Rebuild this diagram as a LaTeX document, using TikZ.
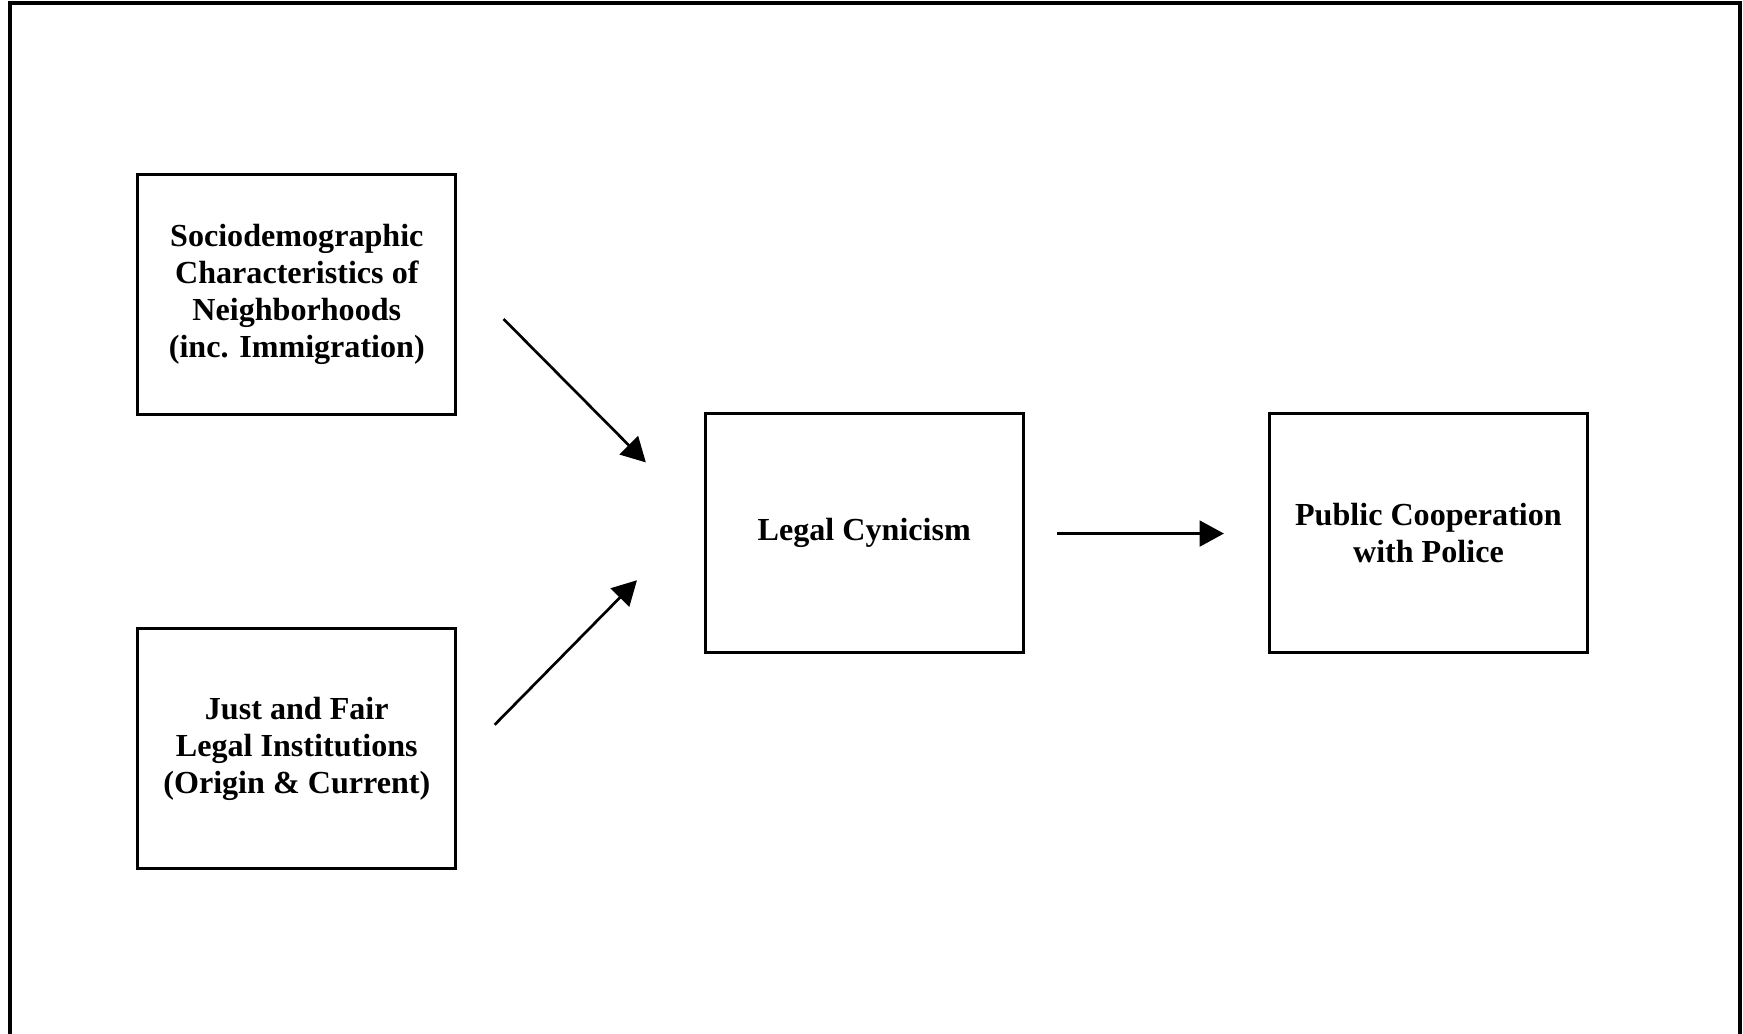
\documentclass[tikz,border=0pt]{standalone}
\usepackage{fontspec}
\setmainfont{Liberation Serif}
\usetikzlibrary{arrows.meta,positioning}
\tikzset{
  caixa/.style={draw, line width=1.1pt, minimum width=4.176cm, minimum height=3.15cm,
    align=center, font=\bfseries\fontsize{12}{13.8}\selectfont, inner sep=0pt},
  seta/.style={line width=1pt, -{Triangle[length=0.32cm, width=0.34cm]}}
}
\begin{document}
\begin{tikzpicture}[x=0.0146cm, y=-0.0146cm]
%\draw[very thin, gray] (0,0) grid[step=100] (1568,930);
\useasboundingbox (0,0) rectangle (1568,930);
\draw[line width=1.6pt] (9,930)--(9,3)--(1565,3)--(1565,930);
\node[caixa] (socio) at (267,265) {Sociodemographic\\Characteristics of\\Neighborhoods\\(inc. Immigration)};
\node[caixa] (justo) at (267,673.5) {Just and Fair\\Legal Institutions\\(Origin \& Current)};
\node[caixa] (cinismo) at (777.5,479.5) {Legal Cynicism};
\node[caixa] (coop) at (1285,479.5) {Public Cooperation\\with Police};
\coordinate (a1) at (453,287);
\coordinate (a2) at (581,416);
\coordinate (b1) at (445,652);
\coordinate (b2) at (573,522);
\coordinate (c1) at (951,480);
\coordinate (c2) at (1101,480);
\draw[seta] (a1)--(a2);
\draw[seta] (b1)--(b2);
\draw[seta] (c1)--(c2);
\end{tikzpicture}
\end{document}
